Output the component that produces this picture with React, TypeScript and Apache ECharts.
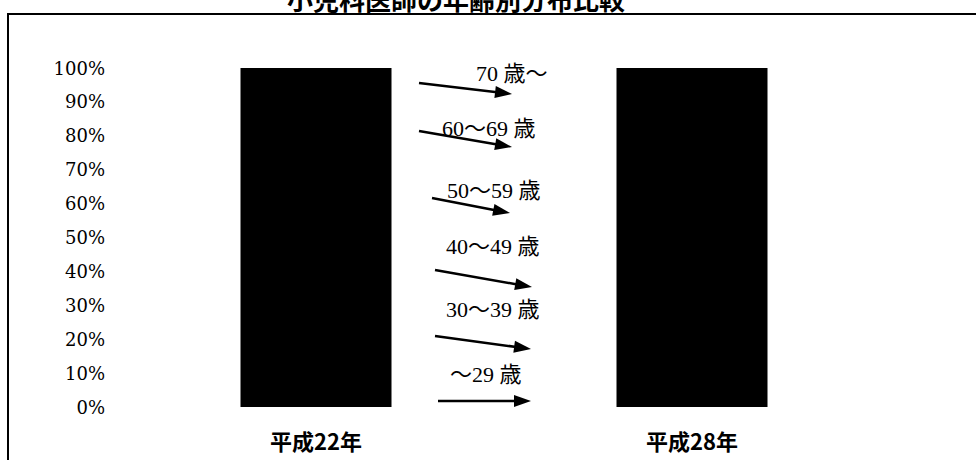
import React, { useEffect, useRef } from "react";
import * as echarts from "echarts";

const chartTitle = "小児科医師の年齢別分布比較";
const years = ["平成22年", "平成28年"];
const totalShare = [100, 100];
const ageGroups = ["70 歳～", "60～69 歳", "50～59 歳", "40～49 歳", "30～39 歳", "～29 歳"];

// annotation layout (pixel positions of the arrow callouts between the bars)
const arrowLayout = [
  { label: [476, 73], from: [419, 83], to: [512, 94] },
  { label: [442, 128], from: [419, 131], to: [512, 147] },
  { label: [447, 190], from: [432, 198], to: [510, 213] },
  { label: [446, 246], from: [435, 270], to: [532, 287] },
  { label: [446, 309], from: [435, 336], to: [531, 349] },
  { label: [450, 374], from: [438, 401], to: [531, 401] },
];

function arrowGraphics(fromPt: number[], toPt: number[]) {
  const dx = toPt[0] - fromPt[0];
  const dy = toPt[1] - fromPt[1];
  const len = Math.sqrt(dx * dx + dy * dy);
  const ux = dx / len;
  const uy = dy / len;
  const headLen = 17;
  const headHalf = 6;
  const bx = toPt[0] - ux * headLen;
  const by = toPt[1] - uy * headLen;
  const nx = -uy;
  const ny = ux;
  return [
    {
      type: "line",
      shape: { x1: fromPt[0], y1: fromPt[1], x2: bx + ux * 2, y2: by + uy * 2 },
      style: { stroke: "#000", lineWidth: 2.5 },
      z: 10,
    },
    {
      type: "polygon",
      shape: {
        points: [
          [toPt[0], toPt[1]],
          [bx + nx * headHalf, by + ny * headHalf],
          [bx - nx * headHalf, by - ny * headHalf],
        ],
      },
      style: { fill: "#000" },
      z: 10,
    },
  ];
}

export default function App() {
  const ref = useRef<HTMLDivElement>(null);

  useEffect(() => {
    if (!ref.current) return;
    const chart = echarts.init(ref.current, undefined, { renderer: "svg" });

    const graphics: any[] = [
      {
        type: "rect",
        shape: { x: 8, y: 14, width: 1100, height: 600 },
        style: { fill: "none", stroke: "#000", lineWidth: 2 },
        z: 1,
      },
      {
        type: "text",
        x: 456,
        y: 11,
        style: {
          text: chartTitle,
          font: "bold 26px 'Noto Sans CJK JP'",
          fill: "#000",
          textAlign: "center",
          textVerticalAlign: "bottom",
        },
        z: 10,
      },
    ];
    arrowLayout.forEach((a, i) => {
      graphics.push({
        type: "text",
        x: a.label[0],
        y: a.label[1],
        style: {
          text: ageGroups[i],
          font: "22px 'Liberation Serif', 'Noto Sans CJK JP'",
          fill: "#000",
          textAlign: "left",
          textVerticalAlign: "middle",
        },
        z: 10,
      });
      graphics.push(...arrowGraphics(a.from, a.to));
    });

    chart.setOption({
      animation: false,
      backgroundColor: "#fff",
      grid: { left: 128, right: 96, top: 68, bottom: 53, containLabel: false },
      xAxis: {
        type: "category",
        data: years,
        axisLine: { show: false },
        axisTick: { show: false },
        splitLine: { show: false },
        axisLabel: {
          color: "#000",
          fontFamily: "Noto Sans CJK JP",
          fontWeight: "bold",
          fontSize: 22,
          margin: 22,
        },
      },
      yAxis: {
        type: "value",
        min: 0,
        max: 100,
        interval: 10,
        axisLine: { show: false },
        axisTick: { show: false },
        splitLine: { show: false },
        axisLabel: {
          formatter: "{value}%",
          color: "#000",
          fontFamily: "DejaVu Serif",
          fontSize: 18,
          margin: 23,
        },
      },
      series: [
        {
          type: "bar",
          name: "構成比",
          data: totalShare,
          barWidth: 151,
          itemStyle: { color: "#000" },
        },
      ],
      graphic: graphics,
    });

    return () => chart.dispose();
  }, []);

  return (
    <div
      ref={ref}
      style={{ position: "absolute", left: 0, top: 0, width: 976, height: 460, background: "#fff" }}
    />
  );
}
